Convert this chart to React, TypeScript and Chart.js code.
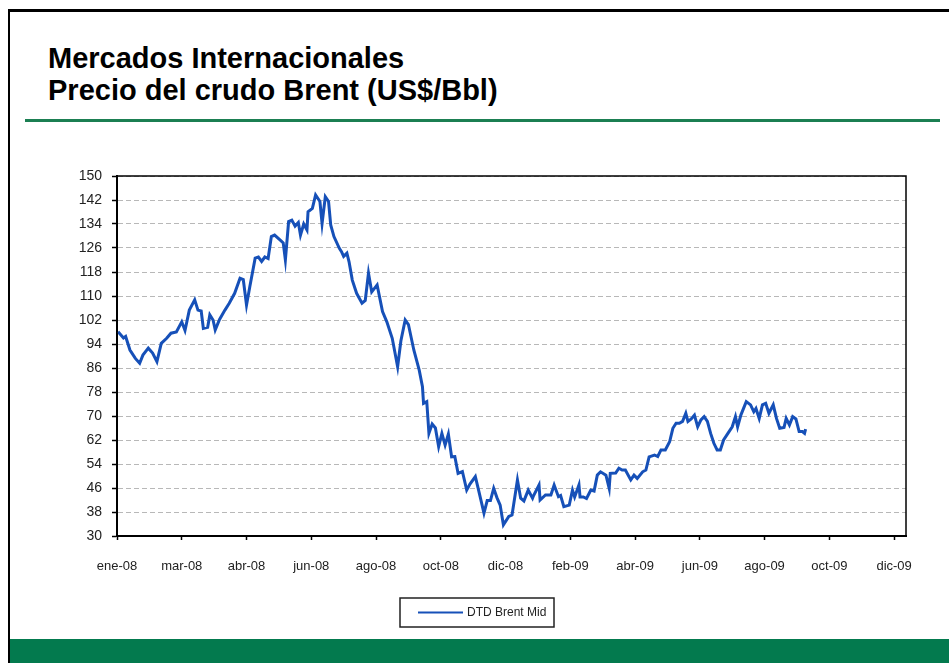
import { useEffect, useRef } from "react";
import { Chart, registerables } from "chart.js";

Chart.register(...registerables);

// ---------- data ----------
const dates: string[] = [
  "2008-01-02","2008-01-07","2008-01-09","2008-01-13","2008-01-18","2008-01-22","2008-01-25","2008-01-30",
  "2008-02-03","2008-02-07","2008-02-11","2008-02-16","2008-02-20","2008-02-25",
  "2008-03-01","2008-03-04","2008-03-08","2008-03-13","2008-03-16","2008-03-19","2008-03-21","2008-03-25","2008-03-27","2008-03-30",
  "2008-04-01","2008-04-05","2008-04-10","2008-04-14","2008-04-19","2008-04-24","2008-04-27","2008-04-30",
  "2008-05-03","2008-05-08","2008-05-11","2008-05-14","2008-05-17","2008-05-20","2008-05-23","2008-05-26","2008-05-31",
  "2008-06-03","2008-06-05","2008-06-08","2008-06-11","2008-06-14","2008-06-17","2008-06-19","2008-06-22","2008-06-25","2008-06-26","2008-06-30",
  "2008-07-03","2008-07-07","2008-07-09","2008-07-12","2008-07-15","2008-07-17","2008-07-20","2008-07-25","2008-07-27","2008-07-29",
  "2008-08-01","2008-08-03","2008-08-06","2008-08-10","2008-08-15","2008-08-18","2008-08-21","2008-08-24","2008-08-29",
  "2008-09-03","2008-09-07","2008-09-12","2008-09-17","2008-09-20","2008-09-24","2008-09-27",
  "2008-10-02","2008-10-07","2008-10-10","2008-10-11","2008-10-14","2008-10-16","2008-10-19","2008-10-22","2008-10-25","2008-10-28","2008-10-31",
  "2008-11-03","2008-11-06","2008-11-09","2008-11-12","2008-11-16","2008-11-20","2008-11-23","2008-11-28",
  "2008-12-01","2008-12-06","2008-12-09","2008-12-12","2008-12-15","2008-12-18","2008-12-21","2008-12-24","2008-12-29",
  "2009-01-01","2009-01-06","2009-01-09","2009-01-12","2009-01-16","2009-01-20","2009-01-21","2009-01-26","2009-01-27",
  "2009-02-01","2009-02-06","2009-02-09","2009-02-13","2009-02-15","2009-02-18","2009-02-23","2009-02-26","2009-02-28",
  "2009-03-04","2009-03-05","2009-03-08","2009-03-11","2009-03-15","2009-03-18","2009-03-21","2009-03-24","2009-03-29",
  "2009-04-01","2009-04-02","2009-04-07","2009-04-10","2009-04-13","2009-04-16","2009-04-21","2009-04-24","2009-04-27",
  "2009-05-02","2009-05-05","2009-05-08","2009-05-13","2009-05-16","2009-05-19","2009-05-23","2009-05-27","2009-05-30",
  "2009-06-02","2009-06-05","2009-06-08","2009-06-11","2009-06-13","2009-06-16","2009-06-19","2009-06-22","2009-06-25","2009-06-28",
  "2009-07-01","2009-07-04","2009-07-07","2009-07-10","2009-07-13","2009-07-16","2009-07-20","2009-07-24","2009-07-27","2009-07-29",
  "2009-08-01","2009-08-06","2009-08-10","2009-08-13","2009-08-15","2009-08-18","2009-08-21","2009-08-24","2009-08-27","2009-08-31",
  "2009-09-03","2009-09-06","2009-09-10","2009-09-12","2009-09-15","2009-09-18","2009-09-21","2009-09-24","2009-09-27","2009-09-29","2009-09-30",
];

const prices: number[] = [
  98.1,96,96.5,92,89.2,87.6,90.3,92.6,
  91,88.1,94.2,95.9,97.6,98,
  101.4,98.5,105.3,108.7,105.3,105,99.2,99.6,103.7,102,
  98.7,102.2,105.3,107.6,110.9,115.9,115.5,107,
  113,122.6,123,121.5,123,122.5,129.8,130.3,128.7,
  127.7,122,134.8,135.3,133.3,134.5,130.3,134,132,138.1,139.2,
  143.7,141.5,134.2,143.1,141.5,133.7,129.8,125.9,124.8,123.2,
  124.3,121.4,115.3,110.9,107.6,108.5,117.6,111.4,113.7,
  104.8,101.4,95.9,86.4,95,102,100.5,
  92,85.3,79.8,74.2,74.8,64.2,67.3,66,59.8,64.2,60.3,
  64,56.4,56.5,50.9,51.5,45.3,47.3,49.8,
  45.3,37.6,41.8,41.8,45.9,42.8,40.3,33.7,36.5,
  37,48.7,42.6,41.7,45.3,42.6,43.5,47,42,
  43.7,43.7,47,43.1,43.5,39.8,40.3,45.3,43,
  47,43,43,42.5,45.3,45,50.3,51.4,50.3,
  45.9,50.9,51,52.6,52,52,48.7,50.3,49.2,
  51.4,52,56.4,57,56.5,58.7,58.7,61.4,65.9,
  67.6,67.6,68.2,70.9,68.2,69,70.3,66.4,68.7,69.8,
  68.2,64.2,60.9,58.7,58.7,62,64.2,66.4,69.8,66.4,
  70.3,74.8,73.7,71.4,72.5,69.2,73.7,74.2,70.9,73.7,
  69.2,65.9,66.2,69.2,67,69.8,69,64.8,64.8,64.2,65.6,
];

const xTickLabels: string[] = [
  "ene-08","mar-08","abr-08","jun-08","ago-08","oct-08","dic-08",
  "feb-09","abr-09","jun-09","ago-09","oct-09","dic-09",
];
const seriesLabel = "DTD Brent Mid";
const axisStart = "2008-01-01";
const axisEnd = "2010-01-01";
const xStepDays = 60;
const yMin = 30;
const yMax = 150;
const yStep = 8;

// ---------- helpers ----------
const DAY = 86400000;
function toUTC(s: string) {
  const [y, m, d] = s.split("-").map(Number);
  return Date.UTC(y, m - 1, d);
}
const t0 = toUTC(axisStart);
const dayOf = (s: string) => (toUTC(s) - t0) / DAY;

const LINE_COLOR = "#1650b8";
const FONT = 'Arial, "Liberation Sans", sans-serif';

const framePlugin = {
  id: "frame",
  afterDraw(chart: any) {
    const { ctx, chartArea: a } = chart;
    ctx.save();
    ctx.strokeStyle = "#000";
    ctx.lineWidth = 1.5;
    ctx.strokeRect(a.left, a.top, a.right - a.left, a.bottom - a.top);
    ctx.restore();
  },
};

const legendBoxPlugin = {
  id: "legendBox",
  afterDraw(chart: any) {
    const { ctx } = chart;
    const ds = chart.data.datasets[0];
    const a = chart.chartArea;
    const boxL = 400, boxT = a.bottom + 62, boxW = 154, boxH = 29;
    ctx.save();
    ctx.fillStyle = "#fff";
    ctx.fillRect(boxL, boxT, boxW, boxH);
    ctx.strokeStyle = "#222";
    ctx.lineWidth = 1.5;
    ctx.strokeRect(boxL, boxT, boxW, boxH);
    const cy = boxT + boxH / 2;
    ctx.strokeStyle = ds.borderColor;
    ctx.lineWidth = 2;
    ctx.beginPath();
    ctx.moveTo(boxL + 18, cy);
    ctx.lineTo(boxL + 63, cy);
    ctx.stroke();
    ctx.fillStyle = "#222";
    ctx.font = `12px ${FONT}`;
    ctx.textAlign = "left";
    ctx.textBaseline = "middle";
    ctx.fillText(ds.label, boxL + 67, cy);
    ctx.restore();
  },
};

function BrentChart() {
  const ref = useRef<HTMLCanvasElement | null>(null);
  useEffect(() => {
    if (!ref.current) return;
    const points = dates.map((d, i) => ({ x: dayOf(d), y: prices[i] }));
    const chart = new Chart(ref.current, {
      type: "line",
      data: {
        datasets: [
          {
            label: seriesLabel,
            data: points,
            borderColor: LINE_COLOR,
            backgroundColor: LINE_COLOR,
            borderWidth: 3,
            pointRadius: 0,
            tension: 0,
          },
        ],
      },
      options: {
        animation: false,
        responsive: false,
        maintainAspectRatio: false,
        events: [],
        layout: { padding: { left: 10, right: 48, top: 46, bottom: 0 } },
        plugins: {
          legend: { display: false },
          tooltip: { enabled: false },
        },
        scales: {
          x: {
            type: "linear",
            min: 0,
            max: dayOf(axisEnd),
            afterFit: (s: any) => {
              s.height = 103;
            },
            grid: {
              drawOnChartArea: false,
              drawTicks: true,
              tickLength: 4,
              tickColor: "#000",
              tickWidth: 1.5,
            },
            border: { display: true, color: "#000", width: 2 },
            ticks: {
              stepSize: xStepDays,
              includeBounds: false,
              maxTicksLimit: 30,
              autoSkip: false,
              maxRotation: 0,
              padding: 19,
              color: "#222",
              font: { family: FONT, size: 13 },
              callback: (_v: any, i: number) => xTickLabels[i] ?? "",
            },
          },
          y: {
            min: yMin,
            max: yMax,
            afterFit: (s: any) => {
              s.width = 107;
            },
            grid: {
              color: "#b8b8b8",
              lineWidth: 1,
              borderDash: [5, 3],
              tickColor: "#000",
              tickLength: 5,
              tickWidth: 1.5,
            } as any,
            border: { display: true, color: "#000", width: 2, dash: [5, 3] } as any,
            ticks: {
              stepSize: yStep,
              maxTicksLimit: 30,
              padding: 10,
              color: "#222",
              font: { family: FONT, size: 14 },
            },
          },
        },
      },
      plugins: [framePlugin, legendBoxPlugin],
    });
    return () => chart.destroy();
  }, []);
  return (
    <canvas
      ref={ref}
      width={954}
      height={509}
      style={{ position: "absolute", left: 0, top: 130, width: 954, height: 509 }}
    />
  );
}

export default function App() {
  return (
    <div
      style={{
        position: "fixed",
        left: 0,
        top: 0,
        width: 949,
        height: 663,
        overflow: "hidden",
        background: "#fff",
        fontFamily: FONT,
      }}
    >
      <div
        style={{
          position: "absolute",
          left: 8,
          top: 9,
          width: 1000,
          height: 700,
          borderTop: "3px solid #000",
          borderLeft: "2px solid #000",
          boxSizing: "border-box",
        }}
      />
      <div
        style={{
          position: "absolute",
          left: 48,
          top: 42,
          fontWeight: "bold",
          fontSize: 29,
          lineHeight: "32px",
          color: "#000",
          whiteSpace: "nowrap",
        }}
      >
        <div>Mercados Internacionales</div>
        <div>Precio del crudo Brent (US$/Bbl)</div>
      </div>
      <div
        style={{
          position: "absolute",
          left: 25,
          top: 119,
          width: 915,
          height: 3,
          background: "#1b7f52",
        }}
      />
      <BrentChart />
      <div
        style={{
          position: "absolute",
          left: 10,
          top: 639,
          width: 960,
          height: 30,
          background: "#037a4e",
        }}
      />
    </div>
  );
}
